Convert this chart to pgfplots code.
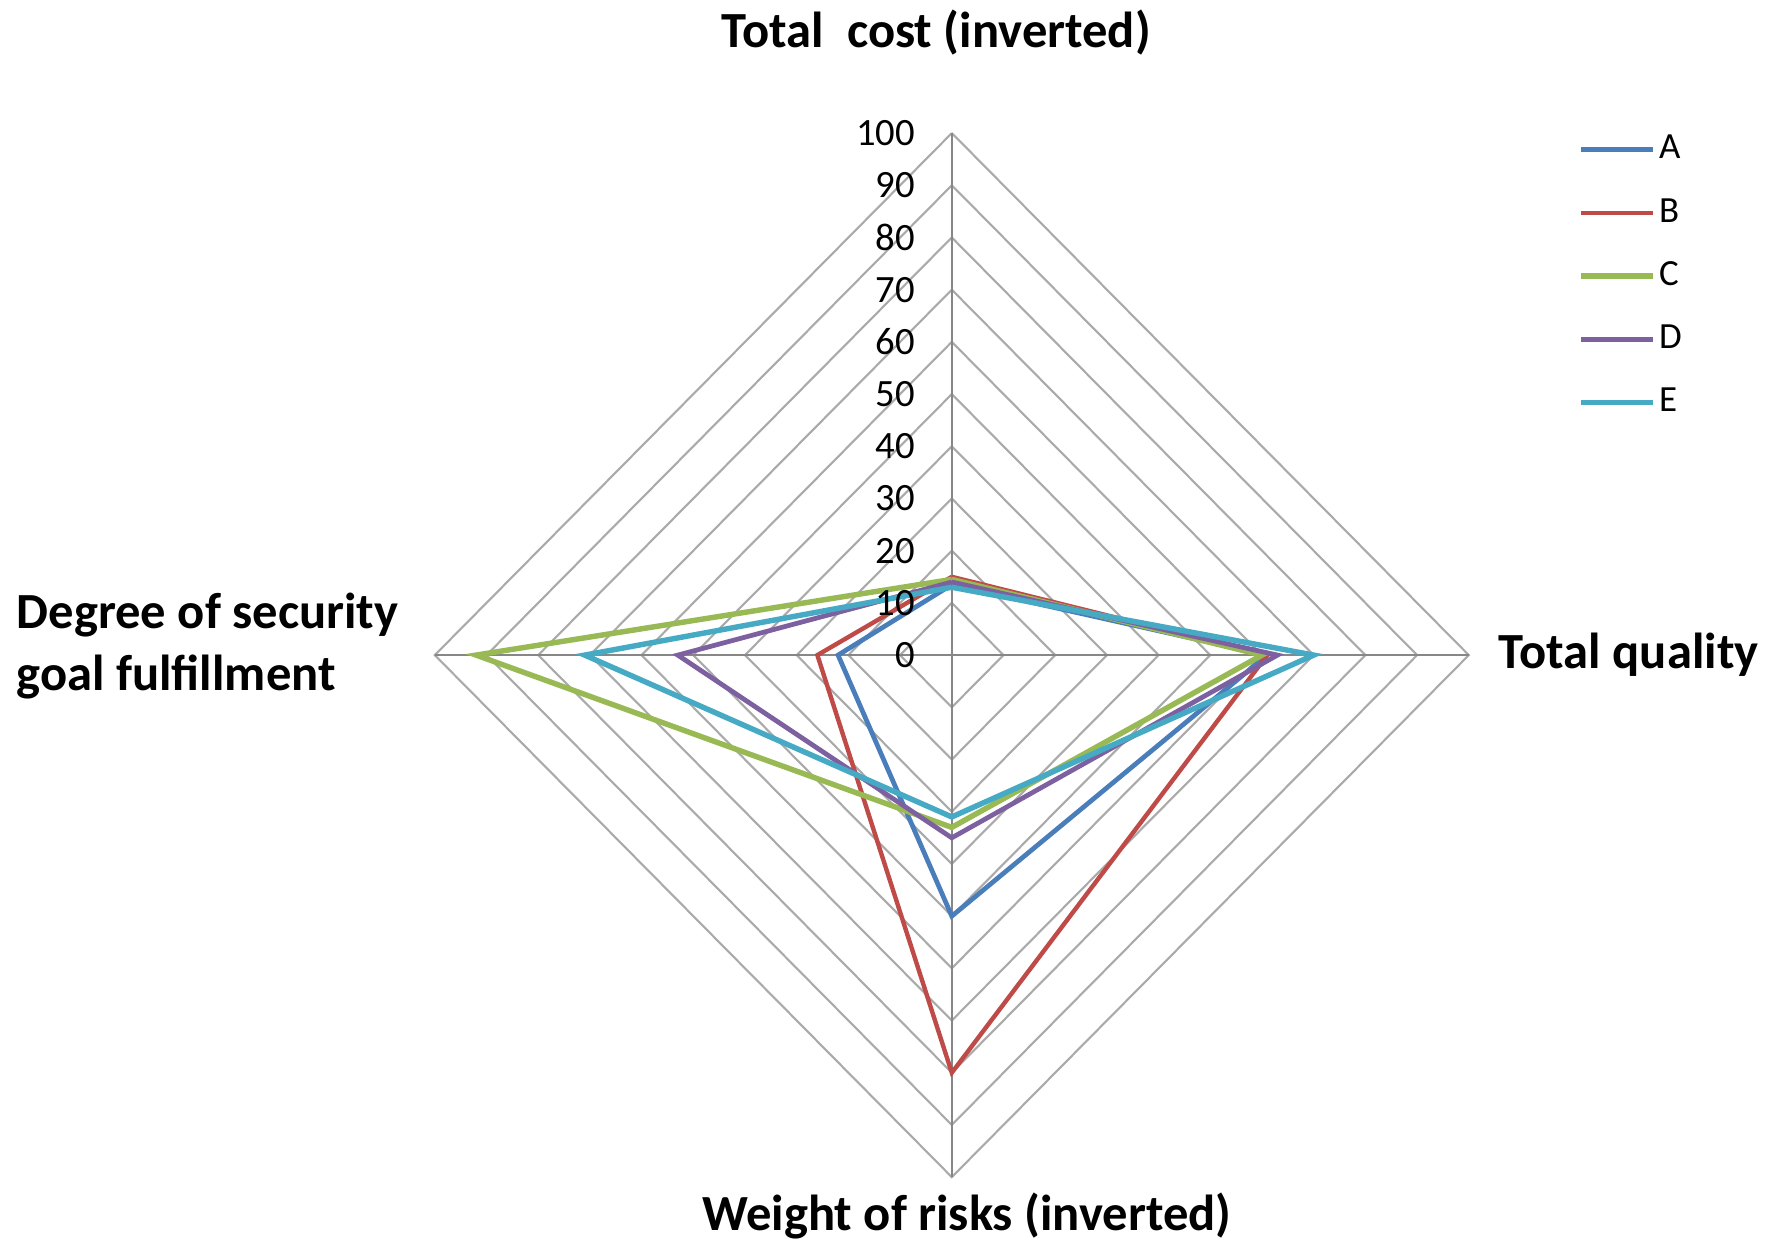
\documentclass[border=0pt]{standalone}
\usepackage{fontspec}
\setmainfont{Carlito}
\usepackage{pgfplots}
\pgfplotsset{compat=1.18}
\definecolor{sA}{RGB}{74,126,187}
\definecolor{sB}{RGB}{190,75,72}
\definecolor{sC}{RGB}{152,185,84}
\definecolor{sD}{RGB}{125,96,160}
\definecolor{sE}{RGB}{70,170,197}
\definecolor{gridc}{RGB}{170,170,170}
\definecolor{axc}{RGB}{135,135,135}
\begin{document}
\begin{tikzpicture}
\begin{axis}[
  x=0.517mm, y=0.522mm,
  xmin=-184.1, xmax=160.0, ymin=-112.3, ymax=125.5,
  hide axis, clip=false,
  legend style={at={(axis cs:121,100.4)}, anchor=north west, draw=none, fill=none,
    font=\fontsize{10.5}{12}\selectfont, row sep=2.72mm, inner sep=0pt,
    nodes={inner sep=1pt}},
  legend cell align=left,
  legend image code/.code={\draw[#1] (0mm,0mm) -- (7.2mm,0mm);},
]
% grid diamonds
\addplot[gridc, line width=0.6pt, forget plot] coordinates {(0,10) (10,0) (0,-10) (-10,0) (0,10)};
\addplot[gridc, line width=0.6pt, forget plot] coordinates {(0,20) (20,0) (0,-20) (-20,0) (0,20)};
\addplot[gridc, line width=0.6pt, forget plot] coordinates {(0,30) (30,0) (0,-30) (-30,0) (0,30)};
\addplot[gridc, line width=0.6pt, forget plot] coordinates {(0,40) (40,0) (0,-40) (-40,0) (0,40)};
\addplot[gridc, line width=0.6pt, forget plot] coordinates {(0,50) (50,0) (0,-50) (-50,0) (0,50)};
\addplot[gridc, line width=0.6pt, forget plot] coordinates {(0,60) (60,0) (0,-60) (-60,0) (0,60)};
\addplot[gridc, line width=0.6pt, forget plot] coordinates {(0,70) (70,0) (0,-70) (-70,0) (0,70)};
\addplot[gridc, line width=0.6pt, forget plot] coordinates {(0,80) (80,0) (0,-80) (-80,0) (0,80)};
\addplot[gridc, line width=0.6pt, forget plot] coordinates {(0,90) (90,0) (0,-90) (-90,0) (0,90)};
\addplot[gridc, line width=0.6pt, forget plot] coordinates {(0,100) (100,0) (0,-100) (-100,0) (0,100)};
% spokes
\addplot[axc, line width=0.7pt, forget plot] coordinates {(0,-100) (0,100)};
\addplot[axc, line width=0.7pt, forget plot] coordinates {(-100,0) (100,0)};
% series
\addplot[sA, line width=1.35pt] coordinates {(0,13.5) (61,0) (0,-50) (-22,0) (0,13.5)};
\addlegendentry{A}
\addplot[sB, line width=1.25pt] coordinates {(0,15) (61,0) (0,-80) (-26,0) (0,15)};
\addlegendentry{B}
\addplot[sC, line width=1.55pt] coordinates {(0,14.5) (60,0) (0,-33) (-92,0) (0,14.5)};
\addlegendentry{C}
\addplot[sD, line width=1.35pt] coordinates {(0,14) (63,0) (0,-35) (-53,0) (0,14)};
\addlegendentry{D}
\addplot[sE, line width=1.55pt] coordinates {(0,13) (70,0) (0,-31) (-71,0) (0,13)};
\addlegendentry{E}
% tick labels
\foreach \v in {0,10,...,100}{
  \edef\tmp{\noexpand\node[anchor=east, inner sep=0pt, font=\noexpand\fontsize{11}{13}\noexpand\selectfont] at (axis cs:-7,\v) {\v};}
  \tmp
}
% axis labels
\node[font=\bfseries\fontsize{14.4}{16}\selectfont] at (axis cs:-3,119.3) {Total\ \ cost (inverted)};
\node[font=\bfseries\fontsize{14.4}{16}\selectfont, anchor=west, inner sep=0pt] at (axis cs:105.7,0) {Total quality};
\node[font=\bfseries\fontsize{14.4}{16}\selectfont, anchor=west, inner sep=0pt, align=left] at (axis cs:-181,1.8) {Degree of security\\[0.55mm]goal fulfillment};
\node[font=\bfseries\fontsize{14.4}{16}\selectfont] at (axis cs:2.9,-107.5) {Weight of risks (inverted)};
\coordinate (bl) at (rel axis cs:0,0);
\coordinate (tr) at (rel axis cs:1,1);
\end{axis}
\pgfresetboundingbox
\useasboundingbox (bl) rectangle (tr);
\end{tikzpicture}
\end{document}
